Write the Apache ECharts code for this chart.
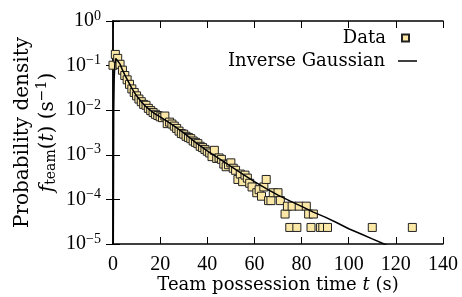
<!DOCTYPE html>
<html>
<head>
<meta charset="utf-8">
<script src="https://cdn.jsdelivr.net/npm/echarts@6/dist/echarts.min.js"></script>
<style>
  html, body { margin: 0; padding: 0; background: #fff; }
  #main { width: 462px; height: 297px; }
</style>
</head>
<body>
<div id="main"></div>
<script>
// histogram points (t in s, density in 1/s)
const dataT = [0, 1, 2, 3, 4, 5, 6, 7, 8, 9, 10, 11, 12, 13, 14, 15, 16, 17, 18, 19,
  20, 21, 22, 23, 24, 25, 26, 27, 28, 29, 30, 31, 32, 33, 34, 35, 36, 37, 38, 39,
  40, 41, 42, 43, 44, 45, 46, 47, 48, 49, 50, 51, 52, 53, 54, 55, 56, 57, 58, 59,
  61, 62, 63, 64, 65, 66, 67, 68, 70, 71, 73, 74, 76, 79, 82, 83, 85,
  75, 78, 84, 88, 89, 91, 110, 127];
const dataF = [0.102, 0.178, 0.145, 0.107, 0.079, 0.060, 0.048, 0.038, 0.030, 0.025,
  0.021, 0.0178, 0.0155, 0.0135, 0.0129, 0.0110, 0.0098, 0.0089, 0.0081, 0.0076,
  0.0071, 0.0068, 0.0074, 0.0050, 0.0054, 0.0049, 0.0044, 0.0039, 0.0034, 0.0030,
  0.0029, 0.0026, 0.00245, 0.0023, 0.00204, 0.0019, 0.00178, 0.00155, 0.00145, 0.00132,
  0.0012, 0.0011, 0.00091, 0.00126, 0.00083, 0.00085, 0.00079, 0.00062, 0.00054, 0.00060,
  0.00066, 0.00050, 0.00045, 0.00028, 0.00037, 0.00025, 0.00035, 0.00030, 0.00023, 0.00019,
  0.000141, 0.000165, 0.000118, 0.00019, 0.00028, 0.000094, 0.000094, 0.000141, 0.000141, 0.000094,
  0.000047, 0.0000705, 0.0000705, 0.0000705, 0.0000705, 0.000047, 0.000047,
  0.0000235, 0.0000235, 0.0000235, 0.0000235, 0.0000235, 0.0000235, 0.0000235, 0.0000235];

// fitted inverse gaussian
const fitT = [0.12, 0.3, 0.5, 0.8, 1.2, 1.6, 2, 3, 4, 5, 6, 7, 8, 10, 12, 14, 16, 18, 20,
  23, 26, 30, 35, 40, 45, 50, 55, 60, 65, 70, 75, 80, 85, 90, 95, 100, 105, 110, 115, 117];
const fitF = [0.00001, 0.01, 0.05, 0.11, 0.145, 0.15, 0.14, 0.108, 0.08, 0.062, 0.049, 0.039,
  0.031, 0.021, 0.0155, 0.012, 0.0098, 0.0082, 0.0071, 0.0056, 0.0044, 0.0031, 0.0019,
  0.00123, 0.00082, 0.00055, 0.00037, 0.00025, 0.000175, 0.000125, 0.000093, 0.00007,
  0.000052, 0.00004, 0.00003, 0.000022, 0.000017, 0.000013, 0.00001, 0.0000088];

const xMin = 0, xMax = 140, xStep = 20;
const yMin = 1e-5, yMax = 1;

const numFont = 'Liberation Serif';
const txtFont = 'DejaVu Serif';

const chart = echarts.init(document.getElementById('main'));

// rich text pieces for tick labels and axis names
const numRich = {
  b: { fontFamily: numFont, fontSize: 20, color: '#000' },
  sup: { fontFamily: numFont, fontSize: 14, color: '#000', padding: [0, 0, 10, 0] }
};
const txtRich = {
  b: { fontFamily: txtFont, fontSize: 18, color: '#000' },
  i: { fontFamily: txtFont, fontSize: 18, fontStyle: 'italic', color: '#000' }
};
const yRich = {
  b: { fontFamily: txtFont, fontSize: 20, color: '#000' },
  i: { fontFamily: txtFont, fontSize: 20, fontStyle: 'italic', color: '#000' },
  sup: { fontFamily: txtFont, fontSize: 14, color: '#000', padding: [0, 0, 10, 0] },
  sub: { fontFamily: txtFont, fontSize: 14, color: '#000', padding: [8, 0, 0, 0] }
};

function expLabel(v) {
  const e = Math.round(Math.log10(v));
  return '{b|10}{sup|' + String(e).replace('-', '\u2212') + '}';
}

const option = {
  animation: false,
  grid: { left: 113, right: 19, top: 21, bottom: 53, outerBoundsMode: 'none' },
  legend: [
    {
      data: ['Data'], right: 52, top: 29, padding: 0, align: 'right',
      icon: 'rect', itemWidth: 7, itemHeight: 7,
      textStyle: { fontFamily: txtFont, fontSize: 18, color: '#000', padding: [0, 11, 0, 0] }
    },
    {
      data: ['Inverse Gaussian'], right: 45, top: 52, padding: 0, align: 'right',
      icon: 'rect', itemWidth: 19, itemHeight: 1.5,
      textStyle: { fontFamily: txtFont, fontSize: 18, color: '#000', padding: [0, 8, 0, 0] }
    }
  ],
  xAxis: [
    {
      type: 'value', min: xMin, max: xMax, interval: xStep,
      name: '{b|Team possession time }{i|t}{b| (s)}', nameLocation: 'middle', nameGap: 32,
      nameMoveOverlap: false,
      nameTextStyle: { fontFamily: txtFont, fontSize: 18, color: '#000', rich: txtRich },
      axisLine: { lineStyle: { color: '#000', width: 1.5 } },
      axisTick: { inside: true, length: 7, lineStyle: { color: '#000' } },
      axisLabel: { fontFamily: numFont, fontSize: 20, color: '#000', margin: 11 },
      splitLine: { show: false }
    },
    {
      type: 'value', position: 'top', min: xMin, max: xMax, interval: xStep,
      axisLine: { lineStyle: { color: '#000', width: 1.5 } },
      axisTick: { inside: true, length: 7, lineStyle: { color: '#000' } },
      axisLabel: { show: false },
      splitLine: { show: false }
    }
  ],
  yAxis: [
    {
      type: 'log', logBase: 10, min: yMin, max: yMax,
      name: '{b|Probability density}\n{i|f}{sub|team}{b|(}{i|t}{b|) (s}{sup|\u22121}{b|)}',
      nameLocation: 'middle', nameRotate: 90, nameGap: 53,
      nameMoveOverlap: false,
      nameTextStyle: { fontFamily: txtFont, fontSize: 20, color: '#000', lineHeight: 25, rich: yRich },
      axisLine: { lineStyle: { color: '#000', width: 1.5 } },
      axisTick: { inside: true, length: 7, lineStyle: { color: '#000' } },
      axisLabel: { formatter: expLabel, margin: 12, rich: numRich },
      minorTick: { show: false },
      splitLine: { show: false }
    },
    {
      type: 'log', logBase: 10, min: yMin, max: yMax, position: 'right',
      axisLine: { lineStyle: { color: '#000', width: 1.5 } },
      axisTick: { inside: true, length: 7, lineStyle: { color: '#000' } },
      axisLabel: { show: false },
      splitLine: { show: false }
    }
  ],
  series: [
    {
      name: 'Data', type: 'scatter', symbol: 'rect', symbolSize: 8,
      itemStyle: { color: '#FBE7A6', borderColor: '#222', borderWidth: 1, opacity: 1 },
      data: dataT.map((t, i) => [t, dataF[i]]),
      z: 2
    },
    {
      name: 'Inverse Gaussian', type: 'line', showSymbol: false, symbol: 'none',
      color: '#000',
      lineStyle: { color: '#000', width: 1.5 },
      data: fitT.map((t, i) => [t, fitF[i]]),
      clip: true,
      z: 3
    }
  ]
};

chart.setOption(option);
</script>
</body>
</html>
